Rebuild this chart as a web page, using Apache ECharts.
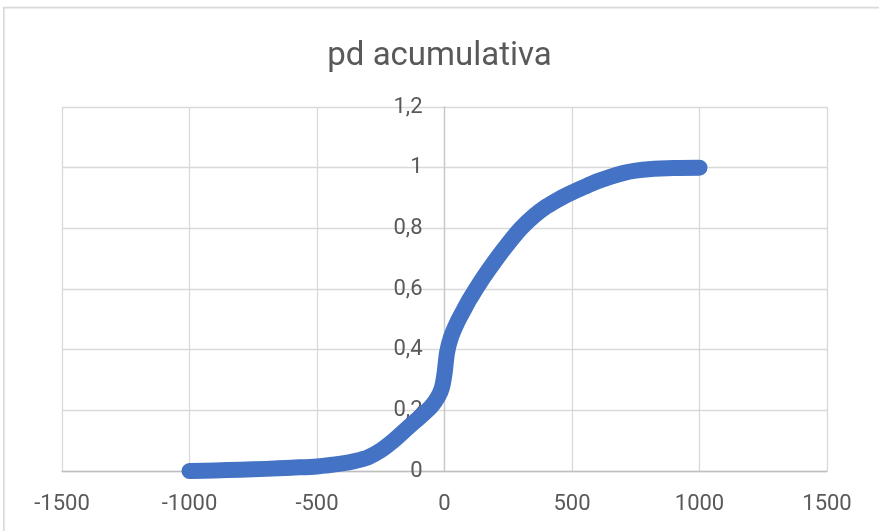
<!DOCTYPE html>
<html>
<head>
<meta charset="utf-8">
<script src="https://cdn.jsdelivr.net/npm/echarts@6/dist/echarts.min.js"></script>
<style>html,body{margin:0;padding:0;background:#fff;}#c{width:879px;height:531px;}</style>
</head>
<body>
<div id="c"></div>
<script>
const titleText = 'pd acumulativa';
const xValues = [-1000, -900, -800, -700, -600, -500, -400, -350, -300, -250, -200, -150, -100, -50, -25, -10, 0, 10, 25, 50, 75, 100, 150, 200, 250, 300, 350, 400, 450, 500, 550, 600, 650, 700, 750, 800, 900, 1000];
const yValues = [0.000, 0.002, 0.004, 0.007, 0.011, 0.015, 0.025, 0.033, 0.045, 0.068, 0.100, 0.138, 0.175, 0.215, 0.245, 0.275, 0.320, 0.390, 0.440, 0.490, 0.530, 0.568, 0.635, 0.695, 0.750, 0.800, 0.840, 0.872, 0.897, 0.918, 0.937, 0.955, 0.970, 0.982, 0.990, 0.995, 0.999, 1.000];
const xTicks = { min: -1500, max: 1500, interval: 500 };
const yTicks = { min: 0, max: 1.2, interval: 0.2 };

const W = 879, H = 531;
const gridLeft = 62, gridRight = 52;
const gridW = W - gridLeft - gridRight;
// shift the y axis so that it sits where x = 0
const yAxisShift = gridW * (0 - xTicks.min) / (xTicks.max - xTicks.min);

const chart = echarts.init(document.getElementById('c'), null, { renderer: 'canvas' });
const data = xValues.map((x, i) => [x, yValues[i]]);
const font = 'Roboto, "Noto Sans", sans-serif';
chart.setOption({
  animation: false,
  backgroundColor: '#fff',
  title: {
    text: titleText, left: 'center', top: 35,
    textStyle: { fontFamily: font, fontSize: 33, fontWeight: 'normal', color: '#595959' }
  },
  graphic: [{
    type: 'rect', silent: true,
    shape: { x: 3.8, y: 7.6, width: 1000, height: 1000 },
    style: { fill: 'none', stroke: '#d9d9d9', lineWidth: 1.6 }
  }],
  grid: { left: gridLeft, right: gridRight, top: 107, bottom: 60, containLabel: false },
  xAxis: {
    type: 'value', min: xTicks.min, max: xTicks.max, interval: xTicks.interval,
    axisLine: { show: true, onZero: false, lineStyle: { color: '#bfbfbf', width: 1.3 } },
    axisTick: { show: false },
    axisLabel: { margin: 22, fontFamily: font, fontSize: 22, color: '#595959', formatter: v => String(v) },
    splitLine: { show: true, lineStyle: { color: '#d9d9d9', width: 1.3 } }
  },
  yAxis: {
    type: 'value', min: yTicks.min, max: yTicks.max, interval: yTicks.interval,
    position: 'left', offset: -yAxisShift,
    axisLine: { show: true, onZero: false, lineStyle: { color: '#c8c8c8', width: 1.3 } },
    axisTick: { show: false },
    axisLabel: {
      margin: 22, fontFamily: font, fontSize: 22, color: '#595959',
      formatter: v => String(+(+v).toFixed(1)).replace('.', ',')
    },
    splitLine: { show: true, lineStyle: { color: '#d9d9d9', width: 1.3 } }
  },
  series: [{
    type: 'line', data: data, showSymbol: false, smooth: 0.3,
    lineStyle: { color: '#4472C4', width: 16, cap: 'round', join: 'round' },
    itemStyle: { color: '#4472C4' }, z: 2
  }]
});
</script>
</body>
</html>
